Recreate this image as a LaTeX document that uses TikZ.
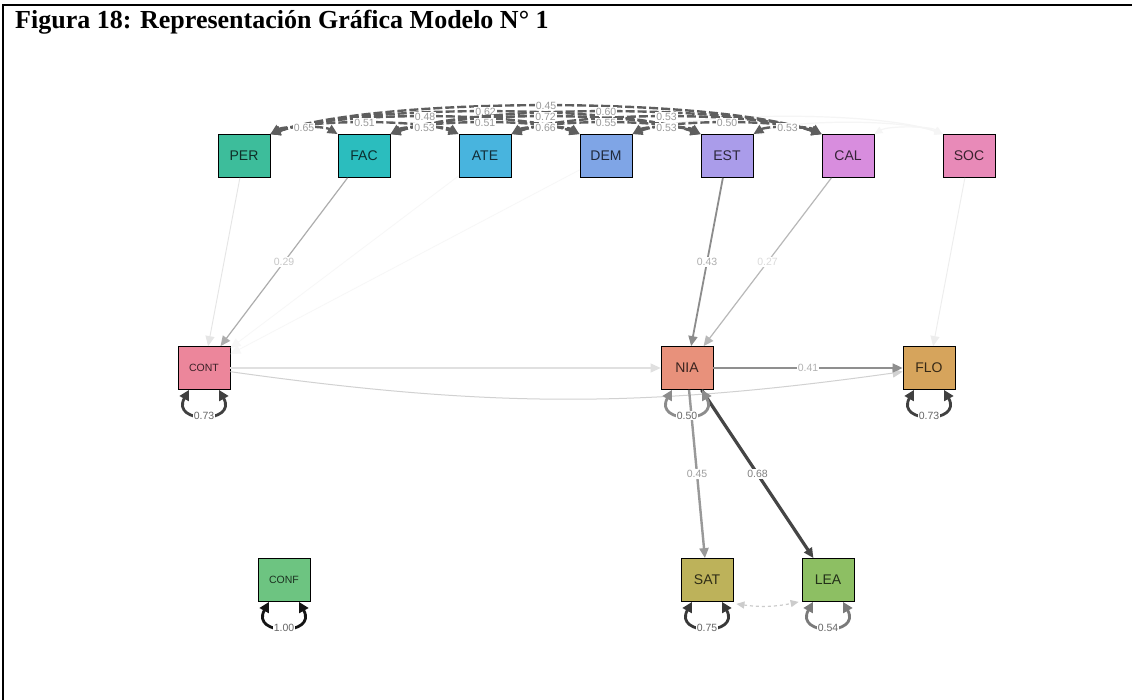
\documentclass[tikz,border=0pt]{standalone}
\usepackage{fontspec}
\setmainfont{Liberation Serif}
\newfontfamily\arialfont{Liberation Sans}
\usetikzlibrary{arrows.meta,calc}

% node fills
\definecolor{cPER}{HTML}{3DBD9B}
\definecolor{cFAC}{HTML}{2BBDBE}
\definecolor{cATE}{HTML}{48B4DE}
\definecolor{cDEM}{HTML}{7FA5E6}
\definecolor{cEST}{HTML}{AA9CEA}
\definecolor{cCAL}{HTML}{D88DDE}
\definecolor{cSOC}{HTML}{E88AB8}
\definecolor{cCONT}{HTML}{EC869B}
\definecolor{cNIA}{HTML}{E8917B}
\definecolor{cFLO}{HTML}{D6A45C}
\definecolor{cCONF}{HTML}{6DC481}
\definecolor{cSAT}{HTML}{BDB25A}
\definecolor{cLEA}{HTML}{8DBF63}
% edge greys
\definecolor{covgray}{HTML}{5E5E5E}
\definecolor{labgray}{HTML}{9A9A9A}

\tikzset{
  var/.style={draw=black, line width=0.8pt, minimum width=52pt, minimum height=43pt,
    inner sep=0pt, font=\arialfont\fontsize{14}{14}\selectfont},
  smallvar/.style={var, font=\arialfont\fontsize{10.5}{10.5}\selectfont},
  reg/.style={-{Triangle[length=10pt,width=9pt]}},
  cov/.style={{Triangle[length=10pt,width=9pt]}-{Triangle[length=10pt,width=9pt]},
    dash pattern=on 9pt off 3pt, line width=2.4pt, draw=covgray},
  faintcov/.style={{Triangle[length=8pt,width=7pt]}-{Triangle[length=8pt,width=7pt]},
    line width=1.2pt, draw=black!4},
  elab/.style={fill=white, inner sep=1pt, text=labgray,
    font=\arialfont\fontsize{10.5}{10.5}\selectfont},
  resloop/.style={{Triangle[length=10pt,width=10pt]}-{Triangle[length=10pt,width=10pt]},
    line width=2.8pt},
  reslab/.style={fill=white, inner sep=1pt, text=black!60,
    font=\arialfont\fontsize{10.5}{10.5}\selectfont},
}

% covariance arc between two variables of the top row
\newcommand\covarc[7][cov]{%
  \draw[#1] (#2.north east) .. controls (#5,#7) and (#6,#7) .. node[elab]{#4} (#3.north west);}
\newcommand\covfaint[5]{%
  \draw[faintcov] (#1.north east) .. controls (#3,#5) and (#4,#5) .. (#2.north west);}
% residual variance loop under a variable
\newcommand\residloop[3]{%
  \draw[resloop, draw=#3] ($(#1.south)+(-15,0)$) .. controls ($(#1.south)+(-34,34)$)
    and ($(#1.south)+(34,34)$) .. node[reslab]{#2} ($(#1.south)+(15,0)$);}

\begin{document}
\begin{tikzpicture}[x=1pt,y=-1pt]
\useasboundingbox (0,0) rectangle (1132,700);
\fill[white] (0,0) rectangle (1132,700);

% frame and heading
\draw[line width=2pt] (3,700) -- (3,5) -- (1132,5);
\node[anchor=base west, inner sep=0pt, font=\bfseries\fontsize{26}{26}\selectfont]
  (title) at (15,29) {Figura 18: Representación Gráfica Modelo N° 1};

% top row
\node[var, fill=cPER, text=cPER!25!black] (PER) at (244,156) {PER};
\node[var, fill=cFAC, text=cFAC!25!black] (FAC) at (364,156) {FAC};
\node[var, fill=cATE, text=cATE!25!black] (ATE) at (485,156) {ATE};
\node[var, fill=cDEM, text=cDEM!25!black] (DEM) at (606,156) {DEM};
\node[var, fill=cEST, text=cEST!25!black] (EST) at (727,156) {EST};
\node[var, fill=cCAL, text=cCAL!25!black] (CAL) at (848,156) {CAL};
\node[var, fill=cSOC, text=cSOC!25!black] (SOC) at (969,156) {SOC};
% middle row
\node[smallvar, fill=cCONT, text=cCONT!25!black] (CONT) at (204,368) {CONT};
\node[var, fill=cNIA, text=cNIA!25!black] (NIA) at (687,368) {NIA};
\node[var, fill=cFLO, text=cFLO!25!black] (FLO) at (929,368) {FLO};
% bottom row
\node[smallvar, fill=cCONF, text=cCONF!25!black] (CONF) at (284,580) {CONF};
\node[var, fill=cSAT, text=cSAT!25!black] (SAT) at (707,580) {SAT};
\node[var, fill=cLEA, text=cLEA!25!black] (LEA) at (828,580) {LEA};

% near-zero covariances with SOC
\covfaint{DEM}{SOC}{694.2}{880.8}{111.2}
\covfaint{EST}{SOC}{791}{905}{119.2}
\covfaint{CAL}{SOC}{887.8}{929.2}{125.8}

% covariances among the exogenous variables
\covarc{PER}{CAL}{0.45}{380}{712}{96.5}
\covarc{PER}{EST}{0.62}{356}{615}{104.5}
\covarc{FAC}{CAL}{0.60}{476}{736}{104.5}
\covarc{PER}{DEM}{0.48}{332}{518}{111.2}
\covarc{FAC}{EST}{0.72}{452}{639}{111.2}
\covarc{ATE}{CAL}{0.53}{573}{760}{111.2}
\covarc{PER}{ATE}{0.51}{308}{421}{119.2}
\covarc{FAC}{DEM}{0.51}{428}{542}{119.2}
\covarc{ATE}{EST}{0.55}{549}{663}{119.2}
\covarc{DEM}{CAL}{0.50}{670}{784}{119.2}
\covarc{PER}{FAC}{0.65}{284}{324}{125.8}
\covarc{FAC}{ATE}{0.53}{404}{445}{125.8}
\covarc{ATE}{DEM}{0.66}{525}{566}{125.8}
\covarc{DEM}{EST}{0.53}{646}{687}{125.8}
\covarc{EST}{CAL}{0.53}{767}{808}{125.8}

% regressions onto CONT
\draw[reg, draw=black!3, line width=0.8pt] (ATE) -- (CONT);
\draw[reg, draw=black!3, line width=0.8pt] (DEM) -- (CONT);
\draw[reg, draw=black!10, line width=0.9pt] (PER) -- (CONT);
\draw[reg, draw=black!32, line width=1.2pt] (FAC) -- node[elab, text=black!22]{0.29} (CONT);

% regressions onto NIA
\draw[reg, draw=black!45, line width=1.8pt] (EST) -- node[elab, text=black!32]{0.43} (NIA);
\draw[reg, draw=black!28, line width=1.2pt] (CAL) -- node[elab, text=black!14]{0.27} (NIA);
\draw[reg, draw=black!12, line width=1pt] (CONT) -- (NIA);

% regressions onto FLO
\draw[reg, draw=black!7, line width=0.9pt] (SOC) -- (FLO);
\draw[reg, draw=black!18, line width=1pt] (CONT) to[bend right=8] (FLO);
\draw[reg, draw=black!44, line width=1.6pt] (NIA) -- node[elab, text=black!30]{0.41} (FLO);

% regressions from NIA
\draw[reg, draw=black!40, line width=2.4pt] (NIA) -- node[elab, text=black!38]{0.45} (SAT);
\draw[reg, draw=black!73, line width=3.2pt] (NIA) -- node[elab, text=black!50]{0.68} (LEA);

% residual covariance SAT -- LEA
\draw[{Triangle[length=8pt,width=7pt]}-{Triangle[length=8pt,width=7pt]}, dashed,
  draw=black!20, line width=1.2pt] ($(SAT.south east)+(3,2)$) to[bend right=10] ($(LEA.south west)+(-3,0)$);

% residual variances
\residloop{CONT}{0.73}{black!75}
\residloop{NIA}{0.50}{black!45}
\residloop{FLO}{0.73}{black!75}
\residloop{CONF}{1.00}{black!92}
\residloop{SAT}{0.75}{black!78}
\residloop{LEA}{0.54}{black!52}
\end{tikzpicture}
\end{document}
